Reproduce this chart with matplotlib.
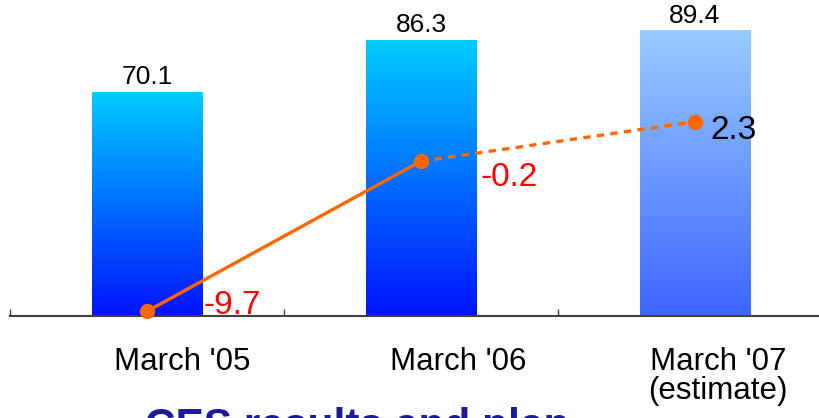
import numpy as np
import matplotlib
matplotlib.use("Agg")
import matplotlib.pyplot as plt
from matplotlib.colors import LinearSegmentedColormap
from matplotlib.transforms import blended_transform_factory

plt.rcParams["font.family"] = ["Liberation Sans", "DejaVu Sans"]

# Data
categories = ["March '05", "March '06", "March '07\n(estimate)"]
bar_values = [70.1, 86.3, 89.4]
line_values = [-9.7, -0.2, 2.3]
line_labels = ["-9.7", "-0.2", "2.3"]
title = "CES results and plan"

# Styling
gradients = [("#0012FF", "#00CCFF"), ("#0012FF", "#00CCFF"), ("#3D66FF", "#99CCFF")]
line_color = "#FF6600"
line_label_colors = ["#FF0000", "#FF0000", "#000000"]
# label offsets in points (dx, dy) relative to each line point
line_label_offsets = [(41, -2.2), (43, -18), (10.8, -12.2)]
# horizontal shift of category labels (data units)
cat_label_shift = [0.13, 0.135, 0.085]

W, H = 820, 418
fig = plt.figure(figsize=(W / 100, H / 100), dpi=100)
ax = fig.add_axes([10 / W, 102 / H, 822 / W, 316 / H])

x = np.arange(len(categories))
bars = ax.bar(x, bar_values, width=0.405, color="none", zorder=2)

grad = np.linspace(0, 1, 256).reshape(-1, 1)
for bar, (bot_c, top_c) in zip(bars, gradients):
    x0, w, h = bar.get_x(), bar.get_width(), bar.get_height()
    cmap = LinearSegmentedColormap.from_list("bar", [bot_c, top_c])
    ax.imshow(grad, extent=(x0, x0 + w, 0, h), origin="lower", cmap=cmap,
              aspect="auto", zorder=2, interpolation="bilinear")
    ax.annotate(f"{h:.1f}", xy=(x0 + w / 2, h), xytext=(0, 5.8),
                textcoords="offset points", ha="center", va="baseline",
                fontsize=19, color="black")

ax.set_xlim(-0.5, 2.5)
ax.set_ylim(0, 99)
for side in ("top", "left", "right"):
    ax.spines[side].set_visible(False)
ax.spines["bottom"].set_color("#404040")
ax.spines["bottom"].set_linewidth(1.5)
ax.set_yticks([])
ax.set_xticks(np.arange(-0.5, 3.0, 1.0))
ax.set_xticklabels([])
ax.tick_params(axis="x", direction="in", length=5, width=1.0, color="#404040")

# Category labels below the axis
trans = blended_transform_factory(ax.transData, fig.transFigure)
baselines_px = [370.5, 398.5]
for i, lab in enumerate(categories):
    for j, part in enumerate(lab.split("\n")):
        ax.text(x[i] + cat_label_shift[i], 1 - baselines_px[j] / H, part,
                transform=trans, ha="center", va="baseline",
                fontsize=22.5, color="black", clip_on=False)

# Operating result line on a secondary scale
ax2 = ax.twinx()
ax2.set_ylim(-10, 10)
ax2.set_xlim(-0.5, 2.5)
for side in ("top", "left", "right", "bottom"):
    ax2.spines[side].set_visible(False)
ax2.set_yticks([])
ax2.plot(x[:2], line_values[:2], color=line_color, lw=2.4, solid_capstyle="butt",
         zorder=3, clip_on=False)
ax2.plot(x[1:], line_values[1:], color=line_color, lw=2.4, dashes=(2.2, 1.9),
         zorder=3, clip_on=False)
ax2.plot(x, line_values, "o", color=line_color, ms=10, zorder=4, clip_on=False)
for i, (lab, col, off) in enumerate(zip(line_labels, line_label_colors, line_label_offsets)):
    ax2.annotate(lab, xy=(x[i], line_values[i]), xytext=off,
                 textcoords="offset points", ha="left", va="baseline",
                 fontsize=24, color=col)

fig.text(145 / W, 1 - 438 / H, title, ha="left", va="baseline",
         fontsize=30.5, fontweight="bold", color="#1C1C99")

fig.savefig("out.png", dpi=100)
